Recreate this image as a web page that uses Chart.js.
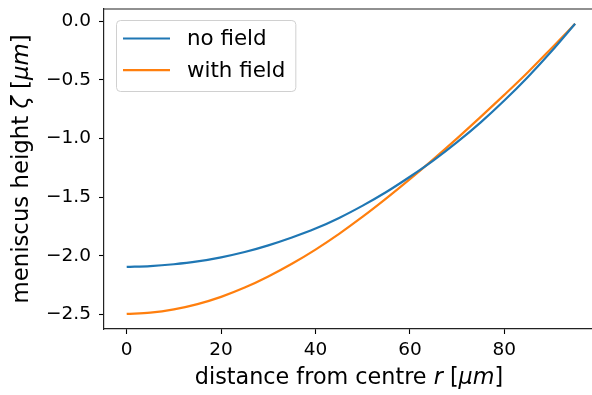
<!DOCTYPE html>
<html>
<head>
<meta charset="utf-8">
<script src="https://cdn.jsdelivr.net/npm/chart.js@4/dist/chart.umd.min.js"></script>
<style>
  html, body { margin: 0; padding: 0; overflow: hidden; background: #fff; }
  #wrap { width: 592px; height: 395px; }
</style>
</head>
<body>
<div id="wrap"><canvas id="meniscusChart" width="592" height="395"></canvas></div>
<script>
// values
const radius = [0, 5, 10, 15, 20, 25, 30, 35, 40, 45, 50, 55, 60, 65, 70, 75, 80, 85, 90, 95];
const noField = [-2.095, -2.088, -2.072, -2.048, -2.013, -1.968, -1.911, -1.844, -1.768, -1.677,
  -1.572, -1.456, -1.326, -1.186, -1.031, -0.862, -0.676, -0.475, -0.256, -0.021];
const withField = [-2.495, -2.485, -2.457, -2.412, -2.350, -2.271, -2.176, -2.068, -1.947, -1.813,
  -1.667, -1.511, -1.347, -1.176, -0.999, -0.816, -0.628, -0.435, -0.230, -0.022];
const seriesLabels = ['no field', 'with field'];
const xTicks = [0, 20, 40, 60, 80];
const yTicks = [-2.5, -2.0, -1.5, -1.0, -0.5, 0.0];

const FONT = 'DejaVu Sans';
const blue = '#1f77b4';
const orange = '#ff7f0e';

function toPoints(ys) {
  return radius.map((r, i) => ({ x: r, y: ys[i] }));
}

// draw a label made of normal / italic pieces, centred on x
function richText(ctx, parts, size, x, y) {
  let total = 0;
  parts.forEach(p => {
    ctx.font = (p[1] ? 'italic ' : '') + size + 'px "' + FONT + '"';
    total += ctx.measureText(p[0]).width;
  });
  let cx = x - total / 2;
  parts.forEach(p => {
    ctx.font = (p[1] ? 'italic ' : '') + size + 'px "' + FONT + '"';
    ctx.fillText(p[0], cx, y);
    cx += ctx.measureText(p[0]).width;
  });
}

const framePlugin = {
  id: 'frame',
  afterDraw(chart) {
    const ctx = chart.ctx;
    const a = chart.chartArea;
    ctx.save();
    // top spine (the right one falls just outside the picture)
    ctx.strokeStyle = '#222';
    ctx.lineWidth = 1.2;
    ctx.beginPath();
    ctx.moveTo(a.left, a.top);
    ctx.lineTo(chart.width, a.top);
    ctx.stroke();

    // axis titles
    ctx.fillStyle = '#000';
    ctx.textBaseline = 'alphabetic';
    richText(ctx, [['distance from centre ', false], ['r', true], [' [', false], ['\u03bcm', true], [']', false]],
      22.3, 349, 384);
    ctx.save();
    ctx.translate(28, (a.top + a.bottom) / 2);
    ctx.rotate(-Math.PI / 2);
    richText(ctx, [['meniscus height ', false], ['\u03b6', true], [' [', false], ['\u03bcm', true], [']', false]],
      22.8, 0, 0);
    ctx.restore();

    // legend box
    const ds = chart.data.datasets;
    const size = 21.4;
    ctx.font = size + 'px "' + FONT + '"';
    let tw = 0;
    ds.forEach(d => { tw = Math.max(tw, ctx.measureText(d.label).width); });
    const bx = a.left + 12, by = 20;
    const bw = 81 + tw, bh = 71;
    ctx.beginPath();
    ctx.roundRect(bx + 0.5, by + 0.5, bw, bh, 4);
    ctx.fillStyle = 'rgba(255,255,255,0.8)';
    ctx.fill();
    ctx.strokeStyle = '#d0d0d0';
    ctx.lineWidth = 1;
    ctx.stroke();
    ds.forEach((d, i) => {
      const ly = by + 18.5 + i * 31.7;
      ctx.strokeStyle = d.borderColor;
      ctx.lineWidth = 2.2;
      ctx.beginPath();
      ctx.moveTo(bx + 7, ly);
      ctx.lineTo(bx + 54, ly);
      ctx.stroke();
      ctx.fillStyle = '#000';
      ctx.textBaseline = 'middle';
      ctx.fillText(d.label, bx + 71, ly + 1);
    });
    ctx.restore();
  }
};

const ctx = document.getElementById('meniscusChart').getContext('2d');
const meniscusChart = new Chart(ctx, {
  type: 'line',
  data: {
    datasets: [{
      label: seriesLabels[0],
      data: toPoints(noField),
      borderColor: blue,
      borderWidth: 2.2,
      pointRadius: 0,
      cubicInterpolationMode: 'monotone',
      fill: false
    }, {
      label: seriesLabels[1],
      data: toPoints(withField),
      borderColor: orange,
      borderWidth: 2.2,
      pointRadius: 0,
      cubicInterpolationMode: 'monotone',
      fill: false
    }]
  },
  options: {
    responsive: false,
    animation: false,
    layout: { padding: { top: 9, right: 0, left: 0, bottom: 0 } },
    plugins: {
      legend: { display: false },
      tooltip: { enabled: false }
    },
    scales: {
      x: {
        type: 'linear',
        min: -4.81,
        max: 98.58,
        afterBuildTicks: s => { s.ticks = xTicks.map(v => ({ value: v })); },
        afterFit: s => { s.height = 66; s.paddingLeft = 0; s.paddingRight = 0; },
        grid: { drawOnChartArea: false, drawTicks: true, tickLength: 5, tickColor: '#000', tickWidth: 1.1 },
        border: { display: true, color: '#222', width: 1.2 },
        ticks: {
          color: '#000',
          padding: 5,
          maxRotation: 0,
          font: { family: FONT, size: 18.5 },
          callback: v => String(v)
        }
      },
      y: {
        type: 'linear',
        min: -2.624,
        max: 0.104,
        afterBuildTicks: s => { s.ticks = yTicks.map(v => ({ value: v })); },
        afterFit: s => { s.width = 104; s.paddingTop = 0; s.paddingBottom = 0; },
        grid: { drawOnChartArea: false, drawTicks: true, tickLength: 5, tickColor: '#000', tickWidth: 1.1 },
        border: { display: true, color: '#222', width: 1.2 },
        ticks: {
          color: '#000',
          padding: 8,
          font: { family: FONT, size: 18.5 },
          callback: v => (v < 0 ? '\u2212' : '') + Math.abs(v).toFixed(1)
        }
      }
    }
  },
  plugins: [framePlugin]
});
</script>
</body>
</html>
